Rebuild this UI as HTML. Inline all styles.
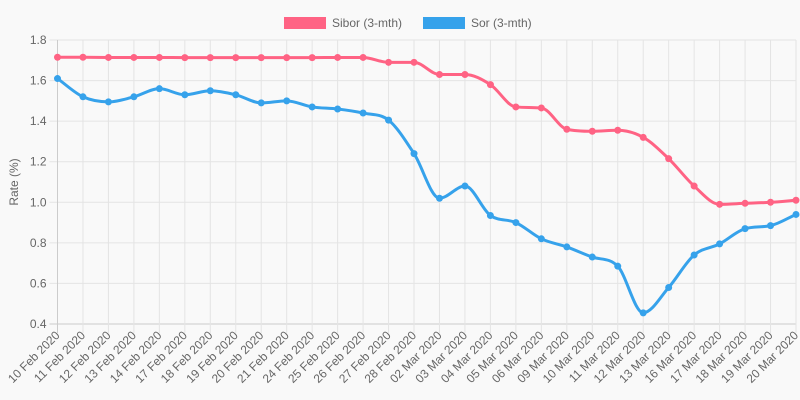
<!DOCTYPE html>
<html><head><meta charset="utf-8"><style>
html,body{margin:0;padding:0;background:#f9f9f9;}
svg{display:block;font-family:"Liberation Sans",sans-serif;}
</style></head><body>
<svg id="chart" width="800" height="400"></svg>
<script>
const categories=["10 Feb 2020","11 Feb 2020","12 Feb 2020","13 Feb 2020","14 Feb 2020","17 Feb 2020","18 Feb 2020","19 Feb 2020","20 Feb 2020","21 Feb 2020","24 Feb 2020","25 Feb 2020","26 Feb 2020","27 Feb 2020","28 Feb 2020","02 Mar 2020","03 Mar 2020","04 Mar 2020","05 Mar 2020","06 Mar 2020","09 Mar 2020","10 Mar 2020","11 Mar 2020","12 Mar 2020","13 Mar 2020","16 Mar 2020","17 Mar 2020","18 Mar 2020","19 Mar 2020","20 Mar 2020"];
const siborValues=[1.715,1.715,1.714,1.714,1.714,1.713,1.713,1.713,1.713,1.713,1.713,1.714,1.714,1.69,1.69,1.63,1.63,1.58,1.47,1.465,1.36,1.35,1.355,1.32,1.215,1.08,0.99,0.995,1.0,1.01];
const sorValues=[1.61,1.52,1.495,1.52,1.56,1.53,1.55,1.53,1.49,1.50,1.47,1.46,1.44,1.405,1.24,1.02,1.08,0.935,0.90,0.82,0.78,0.73,0.685,0.455,0.58,0.74,0.795,0.87,0.885,0.94];
const yTicks=[0.4,0.6,0.8,1.0,1.2,1.4,1.6,1.8];
const seriesNames=["Sibor (3-mth)","Sor (3-mth)"];

const NS="http://www.w3.org/2000/svg";
const svg=document.getElementById('chart');
const X0=57.5,X1=796,Y0=324,Y1=40,YMIN=0.4,YMAX=1.8;
const xs=i=>X0+(X1-X0)*i/(categories.length-1);
const ys=v=>Y0-(v-YMIN)/(YMAX-YMIN)*(Y0-Y1);
function el(t,a,p){const e=document.createElementNS(NS,t);for(const k in a)e.setAttribute(k,a[k]);(p||svg).appendChild(e);return e;}

// grid
yTicks.forEach(t=>{
  const y=ys(t);
  const l=el('line',{x1:X0-8,x2:X1,y1:y,y2:y,stroke:t===YMIN?'#cccccc':'#e4e4e4','stroke-width':1});
  
  
  const tx=el('text',{x:X0-11,y:y+4,'text-anchor':'end','font-size':12,fill:'#666'});
  tx.textContent=t.toFixed(1);
  
  
});
categories.forEach((c,i)=>{
  const x=xs(i);
  const l=el('line',{x1:x,x2:x,y1:Y1,y2:Y0+9,stroke:i===0?'#cccccc':'#e4e4e4','stroke-width':1});
  
  
  const tx=el('text',{x:x+3,y:Y0+12,'text-anchor':'end','font-size':12,fill:'#666',transform:`rotate(-45 ${x+3} ${Y0+12})`});
  tx.textContent=c;
  
  
});
const yt=el('text',{x:18,y:182,'text-anchor':'middle','font-size':12,fill:'#666',transform:'rotate(-90 18 182)'});
yt.textContent='Rate (%)';



function monotonePath(pts){
  const n=pts.length,d=[],m=[];
  for(let i=0;i<n-1;i++)d.push((pts[i+1][1]-pts[i][1])/(pts[i+1][0]-pts[i][0]));
  m[0]=d[0];m[n-1]=d[n-2];
  for(let i=1;i<n-1;i++)m[i]=(d[i-1]*d[i]<=0)?0:(d[i-1]+d[i])/2;
  for(let i=0;i<n-1;i++){
    if(d[i]===0){m[i]=0;m[i+1]=0;continue;}
    const a=m[i]/d[i],b=m[i+1]/d[i],s=a*a+b*b;
    if(s>9){const t=3/Math.sqrt(s);m[i]=t*a*d[i];m[i+1]=t*b*d[i];}
  }
  let p=`M${pts[0][0]},${pts[0][1]}`;
  for(let i=0;i<n-1;i++){
    const h=(pts[i+1][0]-pts[i][0])/3;
    p+=` C${pts[i][0]+h},${pts[i][1]+m[i]*h} ${pts[i+1][0]-h},${pts[i+1][1]-m[i+1]*h} ${pts[i+1][0]},${pts[i+1][1]}`;
  }
  return p;
}
function drawSeries(vals,color,name){
  const pts=vals.map((v,i)=>[xs(i),ys(v)]);
  const g=el('g',{});
  
  
  const p=el('path',{d:monotonePath(pts),fill:'none',stroke:color,'stroke-width':3},g);
  
  
  pts.forEach(q=>{
    const c=el('circle',{cx:q[0],cy:q[1],r:3.5,fill:color},g);
    
    
  });
}
drawSeries(siborValues,'#ff6384','sibor');
drawSeries(sorValues,'#36a2eb','sor');

// legend
const lg=el('g',{});


[[284,'#ff6384',0],[423,'#36a2eb',1]].forEach(([x,c,i])=>{
  const r=el('rect',{x:x,y:17,width:42,height:12,fill:c},lg);
  
  
  const t=el('text',{x:x+48,y:27,'font-size':12,fill:'#666'},lg);
  t.textContent=seriesNames[i];
  
  
});
</script>
</body></html>
